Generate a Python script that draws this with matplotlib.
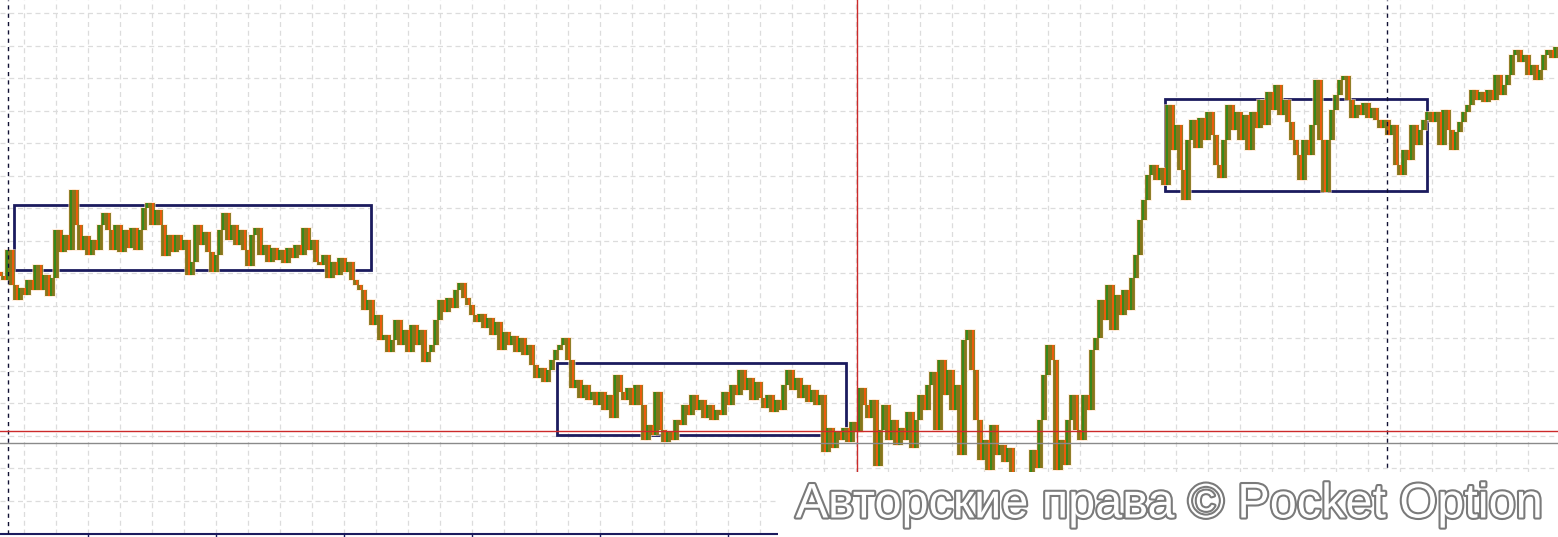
import matplotlib
matplotlib.use("Agg")
import matplotlib.pyplot as plt
import matplotlib.patheffects as pe
from matplotlib.patches import Rectangle
import numpy as np

# ---------------- data (price in points, one close every bar) ----------------
close = [
    261, 257, 287, 252, 237, 249, 242, 257, 247, 272,
    247, 262, 241, 259, 307, 285, 302, 287, 347, 312,
    287, 301, 282, 297, 287, 312, 324, 307, 287, 312,
    285, 307, 289, 309, 287, 307, 329, 334, 312, 327,
    312, 281, 302, 285, 302, 287, 297, 262, 275, 312,
    292, 305, 285, 265, 282, 307, 324, 297, 312, 292,
    307, 287, 271, 302, 309, 282, 292, 275, 289, 277,
    287, 274, 289, 279, 292, 282, 309, 287, 297, 275,
    272, 282, 259, 275, 262, 279, 265, 275, 257, 252,
    247, 227, 237, 212, 222, 197, 202, 185, 197, 217,
    192, 207, 185, 212, 192, 207, 175, 185, 192, 217,
    237, 225, 239, 229, 247, 254, 239, 232, 222, 215,
    223, 209, 219, 202, 215, 187, 205, 192, 201, 185,
    199, 182, 192, 172, 159, 169, 155, 167, 177, 187,
    192, 199, 177, 149, 157, 139, 152, 137, 145, 132,
    145, 127, 142, 119, 162, 145, 137, 149, 132, 152,
    132, 97, 112, 102, 145, 107, 95, 105, 97, 117,
    112, 132, 122, 142, 127, 137, 119, 132, 117, 127,
    122, 145, 132, 152, 142, 167, 147, 159, 137, 155,
    139, 129, 142, 125, 137, 127, 152, 167, 147, 159,
    139, 152, 135, 147, 132, 142, 85, 109, 89, 105,
    97, 109, 95, 115, 105, 149, 132, 119, 137, 71,
    107, 132, 97, 117, 92, 109, 97, 125, 89, 117,
    142, 127, 152, 165, 107, 177, 142, 167, 127, 152,
    82, 197, 207, 167, 117, 77, 97, 67, 112, 82,
    92, 75, 89, 59, 47, 42, 49, 62, 87, 69,
    117, 162, 192, 177, 67, 97, 72, 117, 142, 107,
    97, 142, 127, 187, 199, 237, 217, 252, 207, 242,
    222, 247, 227, 259, 282, 317, 337, 362, 372, 357,
    369, 352, 432, 387, 412, 367, 337, 397, 417, 389,
    419, 397, 425, 402, 372, 359, 397, 432, 407, 425,
    397, 422, 387, 425, 409, 437, 412, 445, 427, 452,
    422, 437, 415, 397, 382, 357, 397, 382, 412, 457,
    397, 345, 397, 427, 442, 457, 461, 437, 419, 432,
    422, 434, 419, 429, 417, 409, 417, 402, 412, 372,
    362, 387, 377, 412, 392, 407, 417, 425, 415, 425,
    392, 427, 407, 387, 405, 415, 425, 432, 447, 437,
    445, 435, 447, 437, 462, 442, 452, 462, 482, 487,
    475, 482, 462, 472, 457, 467, 482, 487, 479, 490,
]
open_first = 265

# annotation levels / zones (bar index, price points)
zones = [(3.5, 92.75, 267, 332), (139.25, 211.5, 102, 174), (291.25, 356.75, 346, 438)]
red_time = 214.25
dashed_times = [2.0, 346.75]
red_level = 106
grey_level = 94
watermark = "Авторские права © Pocket Option"

# ---------------- figure ----------------
W, H = 1558, 537
fig = plt.figure(figsize=(W / 100, H / 100), dpi=100)
fig.patch.set_facecolor("white")
ax = fig.add_axes([0, 3.5 / H, 1, 1 - 3.5 / H])
ax.set_facecolor("white")
ax.set_xlim(0, 389.5)
ax.set_ylim(3.5, 537)

for s in ["left", "right", "top"]:
    ax.spines[s].set_visible(False)
ax.spines["bottom"].set_color("#1b1b5e")
ax.spines["bottom"].set_linewidth(1.5)
ax.spines["bottom"].set_bounds(0, 194.5)

ax.set_xticks(np.arange(22, 195, 32))
ax.set_xticks(np.arange(6, 390, 8), minor=True)
ax.set_yticks(np.arange(36.5, 537, 32.5))
ax.tick_params(axis="x", which="major", direction="out", length=3.5, width=1,
               color="#1b1b5e", labelbottom=False)
ax.tick_params(axis="x", which="minor", length=0)
ax.tick_params(axis="y", length=0, labelleft=False)
ax.grid(True, which="both", color="#dcdcdc", linestyle=(0, (4, 3)), linewidth=0.9)
ax.set_axisbelow(True)

# bars: open = previous close
c = np.array(close, dtype=float)
o = np.concatenate([[open_first], c[:-1]])
x = np.arange(len(c))
lo = np.minimum(o, c)
hi = np.maximum(o, c)
up = c >= o
# soft halo, olive body, coloured core
ax.vlines(x, lo - 1, hi + 1, colors="#ffe3c8", linewidth=5.5, zorder=2.8, alpha=0.6)
ax.vlines(x, lo, hi, colors="#86761a", linewidth=4.2, zorder=3)
ax.vlines(x[up] - 0.18, lo[up], hi[up], colors="#2f8a1c", linewidth=1.3, zorder=3.5)
ax.vlines(x[~up] + 0.18, lo[~up], hi[~up], colors="#f55a0a", linewidth=1.3, zorder=3.5)

# zones
for x0, x1, y0, y1 in zones:
    ax.add_patch(Rectangle((x0, y0), x1 - x0, y1 - y0, fill=False,
                           edgecolor="#1b1b5e", linewidth=2.0, zorder=2.5))

ax.axvline(red_time, color="#cc2a2a", linewidth=1.0, zorder=4)
for t in dashed_times:
    ax.axvline(t, color="#111133", linewidth=1.0, linestyle=(0, (3, 3)), zorder=4)
ax.axhline(red_level, color="#cc2a2a", linewidth=1.0, zorder=4)
ax.axhline(grey_level, color="#8a8a8a", linewidth=1.0, zorder=4)

# watermark panel
fig.patches.append(Rectangle((778 / W, 0), 1 - 778 / W, 65 / H, transform=fig.transFigure,
                             facecolor="white", edgecolor="none", zorder=10))
fig.text(1543 / W, (537 - 505) / H, watermark, ha="right", va="center",
         fontsize=35, family="Liberation Sans", color="white", zorder=11,
         path_effects=[pe.Stroke(linewidth=3.0, foreground="#7a7a7a"), pe.Normal()])

fig.savefig("out.png", dpi=100, facecolor="white")
